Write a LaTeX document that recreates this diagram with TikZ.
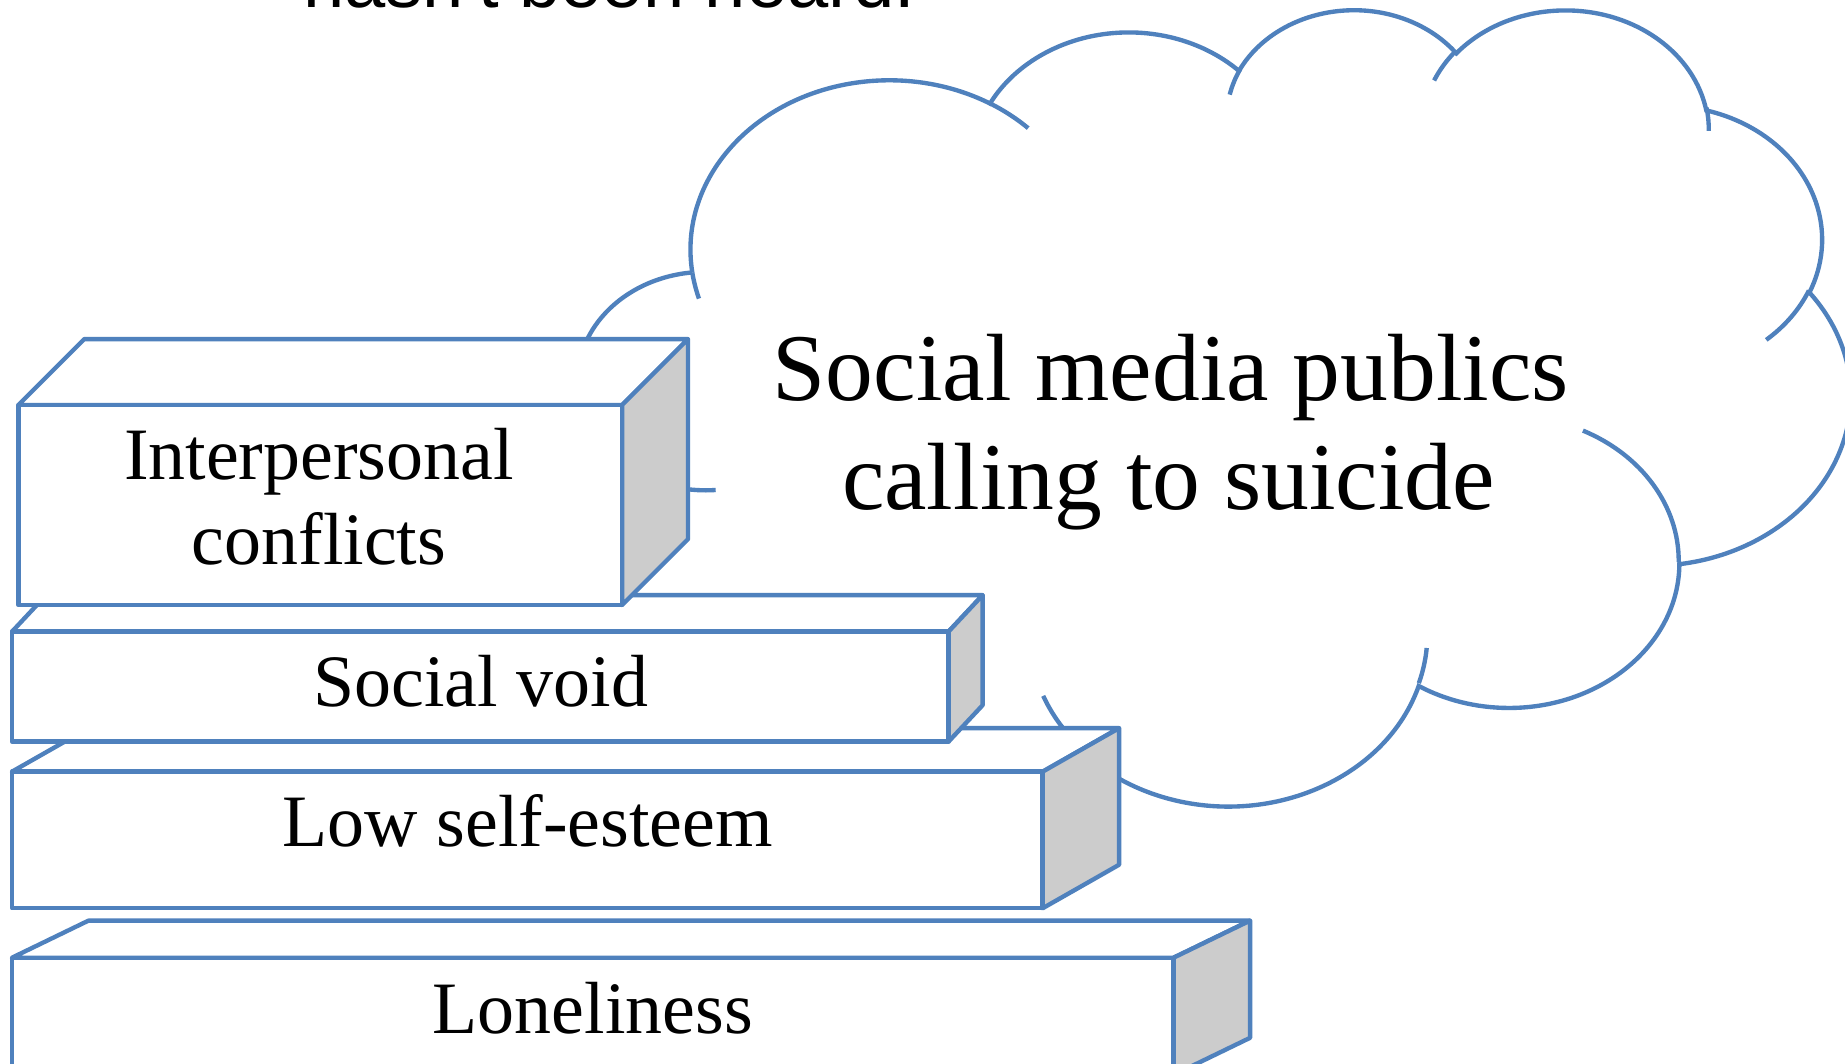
\documentclass[tikz,border=0pt]{standalone}
\usepackage{fontspec}
\newfontfamily\serifface{Liberation Serif}
\newfontfamily\sansface{Liberation Sans}
\definecolor{cblue}{RGB}{79,129,189}
\definecolor{cgrey}{RGB}{204,204,204}
% cloud arcs (DrawingML style: visual angles -> parametric angles)
\newcommand\cldangles[4]{%
  \pgfmathsetmacro\cldts{atan2(sin(#3)*#1,cos(#3)*#2)}%
  \pgfmathsetmacro\cldtt{atan2(sin(#3+#4)*#1,cos(#3+#4)*#2)}%
  \pgfmathsetmacro\cldte{\cldts+mod(\cldtt-\cldts+720,360)}%
}
\newcommand\cldarc[4]{\cldangles{#1}{#2}{#3}{#4}\pgfpatharcaxes{\cldts}{\cldte}{\pgfpointxy{#1}{0}}{\pgfpointxy{0}{#2}}}
\newcommand\cldarcrev[4]{\cldangles{#1}{#2}{#3}{#4}\pgfpatharcaxes{\cldte}{\cldts}{\pgfpointxy{#1}{0}}{\pgfpointxy{0}{#2}}}
\newcommand\cldstub[6]{\pgfpathmoveto{\pgfpointxy{#1}{#2}}\cldarc{#3}{#4}{#5}{#6}}
\newcommand\drawcube[6]{%
  \filldraw[topface] (#1,#2) -- ({#1+#5},{#2+#6}) -- ({#3+#5},{#2+#6}) -- (#3,#2) -- cycle;
  \filldraw[sideface] (#3,#2) -- ({#3+#5},{#2+#6}) -- ({#3+#5},{#4+#6}) -- (#3,#4) -- cycle;
  \filldraw[topface] (#1,#2) rectangle (#3,#4);
}
\tikzset{
  boxline/.style={draw=cblue, line width=1.85pt, line join=round},
  topface/.style={boxline, fill=white},
  sideface/.style={boxline, fill=cgrey},
  boxtxt/.style={anchor=base, inner sep=0pt, font=\serifface\fontsize{31.4pt}{36pt}\selectfont},
  cldtxt/.style={anchor=base, inner sep=0pt, font=\serifface\fontsize{40.6pt}{46pt}\selectfont},
  toptxt/.style={anchor=base, inner sep=0pt, font=\sansface\fontsize{31.5pt}{36pt}\selectfont}
}
\begin{document}
\begin{tikzpicture}[x=0.5pt,y=-0.5pt]
\useasboundingbox (0,0) rectangle (1568,904);
\clip (0,0) rectangle (1568,904);
\fill[white] (0,0) rectangle (1568,904);
% top text (cut off by the top edge, as in the source)
\node[toptxt] (heard) at (517.9,6.8) {hasn't been heard.};
% cloud
\begin{scope}[shift={(490.7,6.5)}, x=1.25196pt, y=-0.78299pt, line width=1.85pt]
  \pgfsetstrokecolor{cblue}
  \pgfpathmoveto{\pgfpointxy{39.00}{143.70}}
  \cldarc{67.53}{91.90}{-190.4875}{123.7805}
  \cldarc{53.33}{72.67}{-144.1024}{89.9452}
  \cldarc{43.65}{59.45}{-145.8079}{99.7230}
  \cldarc{48.57}{65.95}{-130.9861}{117.2417}
  \cldarc{53.33}{72.73}{-78.7089}{109.0269}
  \cldarc{67.75}{92.20}{-46.2673}{130.2690}
  \cldarc{57.85}{78.67}{0.6250}{114.0333}
  \cldarc{67.52}{92.15}{22.4516}{115.1726}
  \cldarc{77.20}{105.43}{66.2426}{82.2760}
  \pgfusepath{stroke}
  \pgfpathmoveto{\pgfpointxy{39.00}{143.70}}
  \cldarcrev{43.45}{59.45}{-246.8285}{152.5189}
  \cldarcrev{43.60}{59.18}{-274.9421}{146.7356}
  \pgfusepath{stroke}
  \cldstub{46.93}{261.77}{43.45}{59.45}{86.7420}{26.4295}
  \cldstub{69.28}{348.99}{43.60}{59.18}{73.6105}{11.4475}
  \cldstub{164.78}{390.90}{67.52}{92.15}{137.6242}{14.0811}
  \cldstub{288.27}{347.51}{67.52}{92.15}{6.4533}{15.9984}
  \cldstub{341.29}{229.54}{57.85}{78.67}{-70.2924}{70.9174}
  \cldstub{417.98}{153.54}{53.33}{72.73}{30.3180}{27.7515}
  \cldstub{383.24}{54.26}{48.57}{65.95}{-13.7443}{14.8589}
  \cldstub{290.78}{39.52}{48.57}{65.95}{-149.1815}{18.1954}
  \cldstub{221.41}{47.20}{43.65}{59.45}{-163.4943}{17.6864}
  \cldstub{140.00}{51.92}{67.53}{91.90}{-66.7070}{12.3194}
  \cldstub{41.27}{157.89}{67.53}{91.90}{157.6544}{11.8582}
  \pgfusepath{stroke}
\end{scope}
\node[cldtxt] (cloud1) at (995,340.5) {Social media publics};
\node[cldtxt] (cloud2) at (993,433.0) {calling to suicide};
% stacked blocks
\drawcube{10.2}{813.9}{997.4}{913.5}{65}{-31.5}
\drawcube{10.2}{655.8}{886.1}{771.9}{65}{-37}
\drawcube{10.2}{536.8}{806.1}{630.3}{29}{-31}
\drawcube{15.6}{344.2}{528.7}{514.2}{56}{-56}
\node[boxtxt] (lone) at (503.8,878.7) {Loneliness};
\node[boxtxt] (esteem) at (448.6,719.5) {Low self-esteem};
\node[boxtxt] (void) at (408.6,600.5) {Social void};
\node[boxtxt] (inter) at (271.1,407.9) {Interpersonal};
\node[boxtxt] (confl) at (271.1,480.0) {conflicts};
\end{tikzpicture}
\end{document}
